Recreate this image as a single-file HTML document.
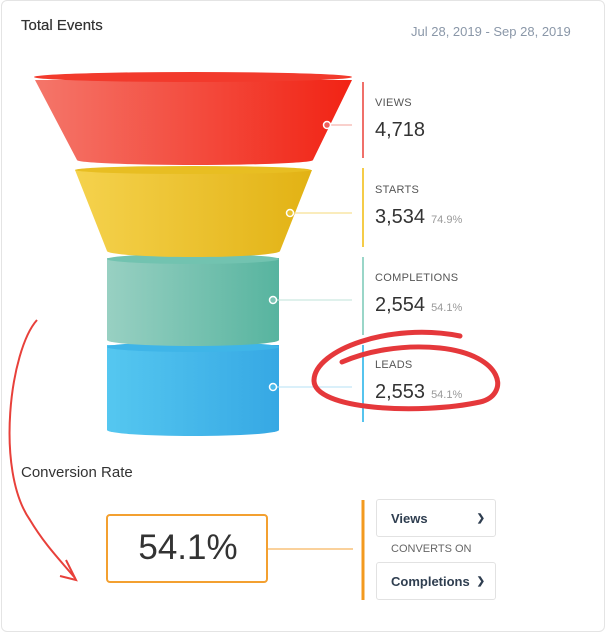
<!DOCTYPE html><html><head><style>
body{margin:0;background:#fff;font-family:"Liberation Sans",sans-serif;}
.c{position:absolute;left:1px;top:0;width:602px;height:630px;border:1px solid #e4e4e4;border-radius:6px;}
.t{position:absolute;color:#333;}
.lab{position:absolute;left:375px;font-size:11px;color:#555;letter-spacing:.3px}
.val{position:absolute;left:375px;font-size:20px;color:#333}
.val span{font-size:11px;color:#999;margin-left:6px}
.dd{position:absolute;left:376px;width:120px;height:38px;border:1px solid #e2e2e2;border-radius:3px;font-size:13px;color:#2f3e50;font-weight:bold;line-height:38px;box-sizing:border-box;padding-left:14px}
</style></head><body>
<div class="c"></div>
<div class="t" style="left:21px;top:17px;font-size:15px;color:#333;text-shadow:0 0 0.4px #333">Total Events</div>
<div class="t" style="left:411px;top:24px;font-size:13px;color:#8a97a8">Jul 28, 2019 - Sep 28, 2019</div>
<svg width="606" height="632" style="position:absolute;left:0;top:0">
<defs>
<linearGradient id="r" x1="0" x2="1"><stop offset="0" stop-color="#f4766a"/><stop offset="1" stop-color="#f22314"/></linearGradient>
<linearGradient id="y" x1="0" x2="1"><stop offset="0" stop-color="#f5d24d"/><stop offset="1" stop-color="#e2b214"/></linearGradient>
<linearGradient id="g" x1="0" x2="1"><stop offset="0" stop-color="#98d0c2"/><stop offset="1" stop-color="#57b49f"/></linearGradient>
<linearGradient id="b" x1="0" x2="1"><stop offset="0" stop-color="#55c7f0"/><stop offset="1" stop-color="#36a8e4"/></linearGradient>
</defs>
<path d="M107 345 L107 430 A86 6 0 0 0 279 430 L279 345 Z" fill="url(#b)"/>
<ellipse cx="193" cy="347" rx="86" ry="5" fill="#3fb5e8"/>
<path d="M107 258 L107 340 A86 6 0 0 0 279 340 L279 258 Z" fill="url(#g)"/>
<ellipse cx="193" cy="259" rx="86" ry="5" fill="#72c3b0"/>
<path d="M75 170 L107 251 A86 6 0 0 0 280 251 L312 170 Z" fill="url(#y)"/>
<ellipse cx="193" cy="170" rx="118" ry="4" fill="#e8be22"/>
<path d="M35 80 L77 160 A118 5 0 0 0 313 160 L352 80 Z" fill="url(#r)"/>
<ellipse cx="193" cy="77" rx="159" ry="5" fill="#f23a2c"/>
<g stroke-width="2">
<line x1="363" y1="82" x2="363" y2="158" stroke="#f0706a"/>
<line x1="363" y1="168" x2="363" y2="247" stroke="#f5cc48"/>
<line x1="363" y1="257" x2="363" y2="335" stroke="#9ad6c8"/>
<line x1="363" y1="345" x2="363" y2="422" stroke="#56c4ee"/>
<line x1="363" y1="500" x2="363" y2="600" stroke="#f39a1f" stroke-width="3"/>
</g>
<g stroke-width="1">
<line x1="327" y1="125" x2="352" y2="125" stroke="#f3a09a"/>
<line x1="290" y1="213" x2="352" y2="213" stroke="#f5d97a"/>
<line x1="273" y1="300" x2="352" y2="300" stroke="#bfe3da"/>
<line x1="273" y1="387" x2="352" y2="387" stroke="#b4e2f5"/>
<line x1="267" y1="549" x2="353" y2="549" stroke="#f9c27a" stroke-width="1.5"/>
</g>
<g fill="none" stroke="#fff" stroke-width="1.5">
<circle cx="327" cy="125" r="3.5" fill="#f0605a"/><circle cx="290" cy="213" r="3.5" fill="#eac330"/>
<circle cx="273" cy="300" r="3.5" fill="#7cc4b4"/><circle cx="273" cy="387" r="3.5" fill="#4cbaea"/>
</g>
<path d="M37 320 C10 350 -5 470 30 520 C45 545 60 560 75 578" fill="none" stroke="#e8403a" stroke-width="2"/>
<path d="M66 560 L76 580 L60 576" fill="none" stroke="#e8403a" stroke-width="2"/>
<path d="M460 336 C390 322 315 350 314 380 C313 410 420 415 480 402 C510 395 505 355 440 348 C400 344 365 352 342 362" fill="none" stroke="#e5383b" stroke-width="5" stroke-linecap="round"/>
<rect x="107" y="515" width="160" height="67" rx="3" fill="none" stroke="#f3a030" stroke-width="2"/>
</svg>
<div class="lab" style="top:97px">VIEWS</div><div class="val" style="top:119px">4,718</div>
<div class="lab" style="top:184px">STARTS</div><div class="val" style="top:206px">3,534<span>74.9%</span></div>
<div class="lab" style="top:272px">COMPLETIONS</div><div class="val" style="top:294px">2,554<span>54.1%</span></div>
<div class="lab" style="top:359px">LEADS</div><div class="val" style="top:381px">2,553<span>54.1%</span></div>
<div class="t" style="left:21px;top:464px;font-size:15px;">Conversion Rate</div>
<div class="t" style="left:107px;top:528px;width:162px;text-align:center;font-size:35px;color:#333">54.1%</div>
<div class="dd" style="top:499px">Views<span style="position:absolute;right:10px;font-size:10px">&#10095;</span></div>
<div class="t" style="left:391px;top:543px;font-size:11px;color:#666">CONVERTS ON</div>
<div class="dd" style="top:562px">Completions<span style="position:absolute;right:10px;font-size:10px">&#10095;</span></div>
</body></html>
